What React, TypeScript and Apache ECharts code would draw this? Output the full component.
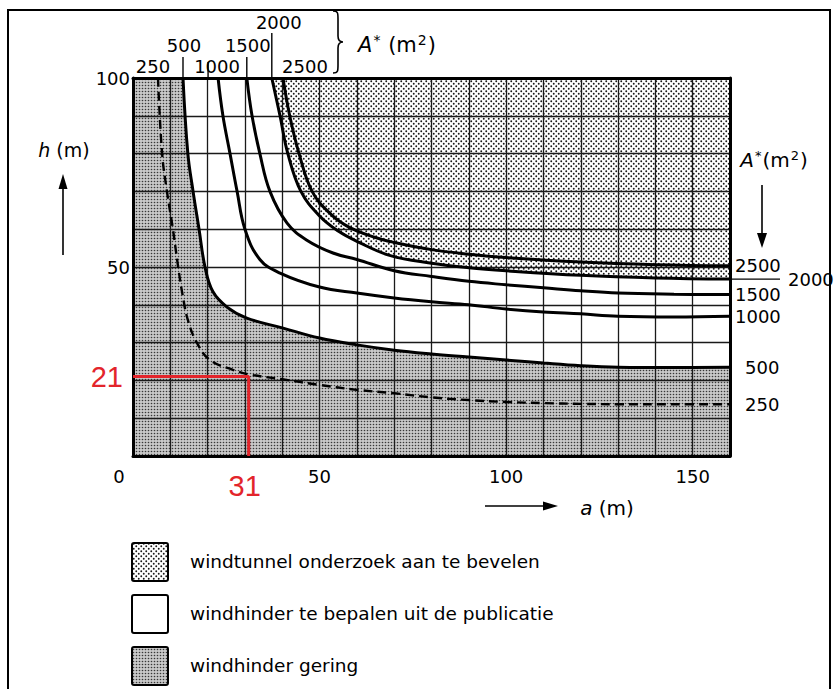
import { useEffect, useRef } from 'react';
import * as echarts from 'echarts';

// Axis ranges: a = distance (m), h = building height (m)
const A_MAX = 160;
const H_MAX = 100;
const GRID_STEP = 10;

const xTickLabels = [0, 50, 100, 150];
const yTickLabels = [50, 100];

// Boundary curves for each façade area A* (m²), points as [a, h]
const curve250 = [
  [6.7, 100], [7.8, 80], [9.1, 70], [10.7, 60], [12.1, 50], [13.4, 42], [14.7, 36], [17.1, 30],
  [20.6, 25.4], [26.8, 22.8], [31, 21.6], [40, 20.3], [50, 18.8], [60, 17.5], [70, 16.6],
  [80, 15.5], [90, 14.8], [100, 14.3], [110, 14.0], [120, 13.8], [130, 13.7], [145, 13.7], [160, 13.7],
];
const curve500 = [
  [13.4, 100], [14.7, 80], [16.1, 70], [17.7, 60], [19.3, 50], [21.4, 43.5], [25.2, 39.4],
  [30.5, 36.5], [40, 33.9], [50, 31.2], [60, 29.4], [70, 28], [80, 27], [90, 26.2], [100, 25.4],
  [110, 24.6], [120, 23.9], [130, 23.5], [145, 23.4], [160, 23.5],
];
const curve1000 = [
  [22.8, 100], [24.1, 90], [26, 80], [27.9, 70], [30, 60], [34, 52], [39.4, 48.4], [50, 44.7],
  [60, 43.1], [70, 41.8], [80, 40.8], [90, 40], [100, 38.9], [110, 38.1], [120, 37.6], [130, 37],
  [145, 36.8], [160, 37],
];
const curve1500 = [
  [30.5, 100], [31.9, 90], [34, 80], [36.7, 70], [41.3, 61.6], [46.6, 57.1], [53.6, 53.7], [60, 52],
  [70, 49.0], [80, 47.5], [90, 46.2], [100, 45.3], [110, 44.5], [120, 43.7], [130, 43.1],
  [145, 42.8], [160, 42.7],
];
const curve2000 = [
  [37.2, 100], [39.4, 90], [41.5, 80], [45, 70], [50, 63.5], [55, 59.5], [60, 56.8], [69, 53],
  [80, 51], [90, 49.8], [100, 49], [120, 47.8], [140, 47.1], [160, 46.8],
];
const curve2500 = [
  [40.2, 100], [42, 90], [44.5, 80], [48, 70], [53, 64], [58, 60.5], [65, 57.8], [70, 56.5],
  [80, 54.6], [90, 53.4], [100, 52.5], [120, 51.3], [140, 50.6], [160, 50.3],
];

const curveNames = ['250', '500', '1000', '1500', '2000', '2500'];
const curveData = [curve250, curve500, curve1000, curve1500, curve2000, curve2500];

// Worked example
const exampleA = 31;
const exampleH = 21;

const legendTexts = [
  'windtunnel onderzoek aan te bevelen',
  'windhinder te bepalen uit de publicatie',
  'windhinder gering',
];

const FONT = '"DejaVu Sans", sans-serif';
const RED = '#e3252b';
const SMOOTH = 0.4;

// label placement around the top of each curve (pixels)
const topLabelLayout: Record<string, { dx: number; dy: number; leader?: { dx: number; from: number } }> = {
  '250': { dx: -5, dy: -12 },
  '500': { dx: 1, dy: -33, leader: { dx: 0, from: -21 } },
  '1000': { dx: -1, dy: -12, leader: { dx: -10, from: -16 } },
  '1500': { dx: 1, dy: -33, leader: { dx: 0, from: -21 } },
  '2000': { dx: 7, dy: -56, leader: { dx: 0, from: -45 } },
  '2500': { dx: 22, dy: -12 },
};
// horizontal gap between the plot edge and the right-hand curve labels
const endLabelGap: Record<string, number> = {
  '250': 15, '500': 15, '1000': 5, '1500': 5, '2000': 58, '2500': 5,
};

function dotPattern(size: number, bg: string, dotColor: string, dots: number[][]) {
  const c = document.createElement('canvas');
  c.width = size;
  c.height = size;
  const ctx = c.getContext('2d')!;
  ctx.fillStyle = bg;
  ctx.fillRect(0, 0, size, size);
  ctx.fillStyle = dotColor;
  dots.forEach(([x, y, r]) => {
    ctx.beginPath();
    ctx.arc(x, y, r, 0, Math.PI * 2);
    ctx.fill();
  });
  return { image: c, repeat: 'repeat', imageWidth: size, imageHeight: size } as any;
}

function buildOption(light: any, dark: any) {
  const fillBase = {
    type: 'line',
    smooth: SMOOTH,
    symbol: 'none',
    silent: true,
    z: 1,
    lineStyle: { width: 0, opacity: 0 },
  };

  const series: any[] = [
    // "windhinder gering": below the 500 curve, plus the strip left of its top
    { ...fillBase, data: curve500, areaStyle: { color: dark, opacity: 1, origin: 'start' } },
    {
      ...fillBase,
      smooth: false,
      data: [[0, H_MAX], [curve500[0][0], H_MAX]],
      areaStyle: { color: dark, opacity: 1, origin: 'start' },
    },
    // "windtunnel onderzoek": above the 2000 curve
    { ...fillBase, data: curve2000, areaStyle: { color: light, opacity: 1, origin: 'end' } },
  ];

  curveNames.forEach((name, i) => {
    const dashed = name === '250';
    series.push({
      type: 'line',
      name,
      data: curveData[i],
      smooth: SMOOTH,
      symbol: 'none',
      z: 3,
      lineStyle: {
        color: '#000',
        width: dashed ? 2.4 : 3,
        type: dashed ? [9, 5] : 'solid',
        cap: 'butt',
      },
      endLabel: {
        show: true,
        formatter: name,
        distance: endLabelGap[name],
        color: '#000',
        fontSize: 18,
        fontFamily: FONT,
      },
    });
  });

  // example reading: h = 21 m at a = 31 m
  series.push({
    type: 'line',
    data: [
      {
        value: [0, exampleH],
        label: { show: true, position: 'left', distance: 10, formatter: String(exampleH) },
      },
      [exampleA, exampleH],
      {
        value: [exampleA, 0],
        label: { show: true, position: 'bottom', distance: 15, offset: [-4, 0], formatter: String(exampleA) },
      },
    ],
    symbol: 'circle',
    symbolSize: 0.1,
    clip: false,
    z: 4,
    itemStyle: { color: RED },
    lineStyle: { color: RED, width: 3 },
    label: { color: RED, fontSize: 29, fontFamily: '"Liberation Sans", Arial, sans-serif' },
  });

  const borderLine = { show: true, onZero: false, lineStyle: { color: '#000', width: 3 } };
  const gridLine = { show: true, lineStyle: { color: '#1a1a1a', width: 1.3 } };

  return {
    animation: false,
    backgroundColor: '#fff',
    grid: { left: 133, right: 105, top: 78, bottom: 233, containLabel: false },
    xAxis: [
      {
        type: 'value',
        min: 0,
        max: A_MAX,
        interval: GRID_STEP,
        position: 'bottom',
        z: 2,
        axisLine: borderLine,
        axisTick: { show: false },
        splitLine: gridLine,
        axisLabel: {
          margin: 11,
          color: '#000',
          fontSize: 18,
          fontFamily: FONT,
          formatter: (v: number) =>
            !xTickLabels.includes(v) ? '' : v === 0 ? '{z|0}' : String(v),
          rich: { z: { fontSize: 18, fontFamily: FONT, color: '#000', padding: [0, 28, 0, 0] } },
        },
      },
      {
        type: 'value',
        min: 0,
        max: A_MAX,
        interval: GRID_STEP,
        position: 'top',
        z: 2,
        axisLine: borderLine,
        axisTick: { show: false },
        axisLabel: { show: false },
        splitLine: { show: false },
      },
    ],
    yAxis: [
      {
        type: 'value',
        min: 0,
        max: H_MAX,
        interval: GRID_STEP,
        position: 'left',
        z: 2,
        axisLine: borderLine,
        axisTick: { show: false },
        splitLine: gridLine,
        axisLabel: {
          margin: 3,
          color: '#000',
          fontSize: 18,
          fontFamily: FONT,
          formatter: (v: number) => (yTickLabels.includes(v) ? String(v) : ''),
        },
      },
      {
        type: 'value',
        min: 0,
        max: H_MAX,
        interval: GRID_STEP,
        position: 'right',
        z: 2,
        axisLine: borderLine,
        axisTick: { show: false },
        axisLabel: { show: false },
        splitLine: { show: false },
      },
    ],
    series,
  };
}

function txt(text: string, x: number, y: number, extra: any = {}) {
  return {
    type: 'text',
    silent: true,
    z: 20,
    style: {
      text,
      x,
      y,
      fill: '#000',
      fontSize: 18,
      fontFamily: FONT,
      textAlign: 'center',
      textVerticalAlign: 'middle',
      align: 'center',
      verticalAlign: 'middle',
      ...extra,
    },
  };
}

function line(x1: number, y1: number, x2: number, y2: number, width = 1.5) {
  return {
    type: 'line',
    silent: true,
    z: 20,
    shape: { x1, y1, x2, y2 },
    style: { stroke: '#000', lineWidth: width },
  };
}

function head(points: number[][]) {
  return { type: 'polygon', silent: true, z: 20, shape: { points }, style: { fill: '#000' } };
}

function unitRich(size: number) {
  return {
    i: { fontStyle: 'italic', fontSize: size, fontFamily: FONT, color: '#000' },
    n: { fontSize: size, fontFamily: FONT, color: '#000' },
    s: { fontSize: Math.round(size * 0.65), fontFamily: FONT, color: '#000', verticalAlign: 'top', padding: [0, 1, 10, 1] },
  };
}

function buildGraphic(chart: any, light: any, dark: any) {
  const px = (p: number[]) => chart.convertToPixel({ gridIndex: 0 }, p) as number[];
  const els: any[] = [];

  // outer frame
  els.push({
    type: 'rect',
    silent: true,
    z: 20,
    shape: { x: 8, y: 10, width: 822, height: 720 },
    style: { fill: 'transparent', stroke: '#000', lineWidth: 2 },
  });

  // curve labels along the top edge
  curveNames.forEach((name, i) => {
    const [x, y] = px(curveData[i][0]);
    const lay = topLabelLayout[name];
    els.push(txt(name, x + lay.dx, y + lay.dy));
    if (lay.leader) els.push(line(x + lay.leader.dx, y + lay.leader.from, x + lay.leader.dx, y, 1.4));
  });

  // leader under the 2500 label towards the 2000 label
  const end2000 = px(curve2000[curve2000.length - 1]);
  els.push(line(end2000[0], end2000[1], end2000[0] + 50, end2000[1], 1.4));

  // brace and unit at the top
  els.push({
    type: 'brace',
    silent: true,
    z: 20,
    x: 333,
    y: 11,
    style: { fill: 'transparent', stroke: '#000', lineWidth: 1.6 },
  });
  els.push(txt('{i|A}{s|*}{n| (m}{s|2}{n|)}', 397, 45, { rich: unitRich(21) }));

  // unit and arrow on the right
  els.push(txt('{i|A}{s|*}{n|(m}{s|2}{n|)}', 774, 160, { rich: unitRich(20) }));
  els.push(line(762, 185, 762, 236, 1.6));
  els.push(head([[762, 248], [757, 233], [767, 233]]));

  // vertical axis title with arrow
  els.push(txt('{i|h}{n| (m)}', 64, 150, { rich: unitRich(19) }));
  els.push(line(63, 255, 63, 186, 1.6));
  els.push(head([[63, 174], [58.5, 189], [67.5, 189]]));

  // horizontal axis title with arrow
  els.push(line(485, 506, 546, 506, 1.6));
  els.push(head([[558, 506], [543, 501.5], [543, 510.5]]));
  els.push(txt('{i|a}{n| (m)}', 607, 508, { rich: unitRich(20) }));

  // legend
  const fills = [light, '#fff', dark];
  const boxTops = [543, 595, 647];
  legendTexts.forEach((t, i) => {
    els.push({
      type: 'rect',
      silent: true,
      z: 20,
      shape: { x: 132, y: boxTops[i], width: 36, height: 38, r: 2 },
      style: { fill: fills[i], stroke: '#000', lineWidth: 2 },
    });
    els.push(txt(t, 190, boxTops[i] + 18, { textAlign: 'left', align: 'left', fontSize: 18.5 }));
  });

  return els;
}

echarts.graphic.registerShape(
  'brace',
  echarts.graphic.extendPath(
    'M0 0 C5 0 5 2 5 8 L5 25 C5 29 6 31 10 31 C6 31 5 33 5 37 L5 54 C5 60 5 62 0 62',
    {}
  ) as any
);

export default function App() {
  const ref = useRef<HTMLDivElement>(null);
  useEffect(() => {
    const light = dotPattern(5, '#ffffff', '#1a1a1a', [[1.25, 1.25, 0.95], [3.75, 3.75, 0.95]]);
    const dark = dotPattern(3, '#c8c8c8', '#383838', [[1.5, 1.5, 0.8]]);
    const chart = echarts.init(ref.current!, null, { renderer: 'svg' });
    chart.setOption(buildOption(light, dark) as any);
    chart.setOption({ graphic: buildGraphic(chart, light, dark) } as any);
    return () => chart.dispose();
  }, []);
  return (
    <div
      ref={ref}
      style={{ position: 'fixed', left: 0, top: 0, width: 835, height: 689, background: '#fff' }}
    />
  );
}
